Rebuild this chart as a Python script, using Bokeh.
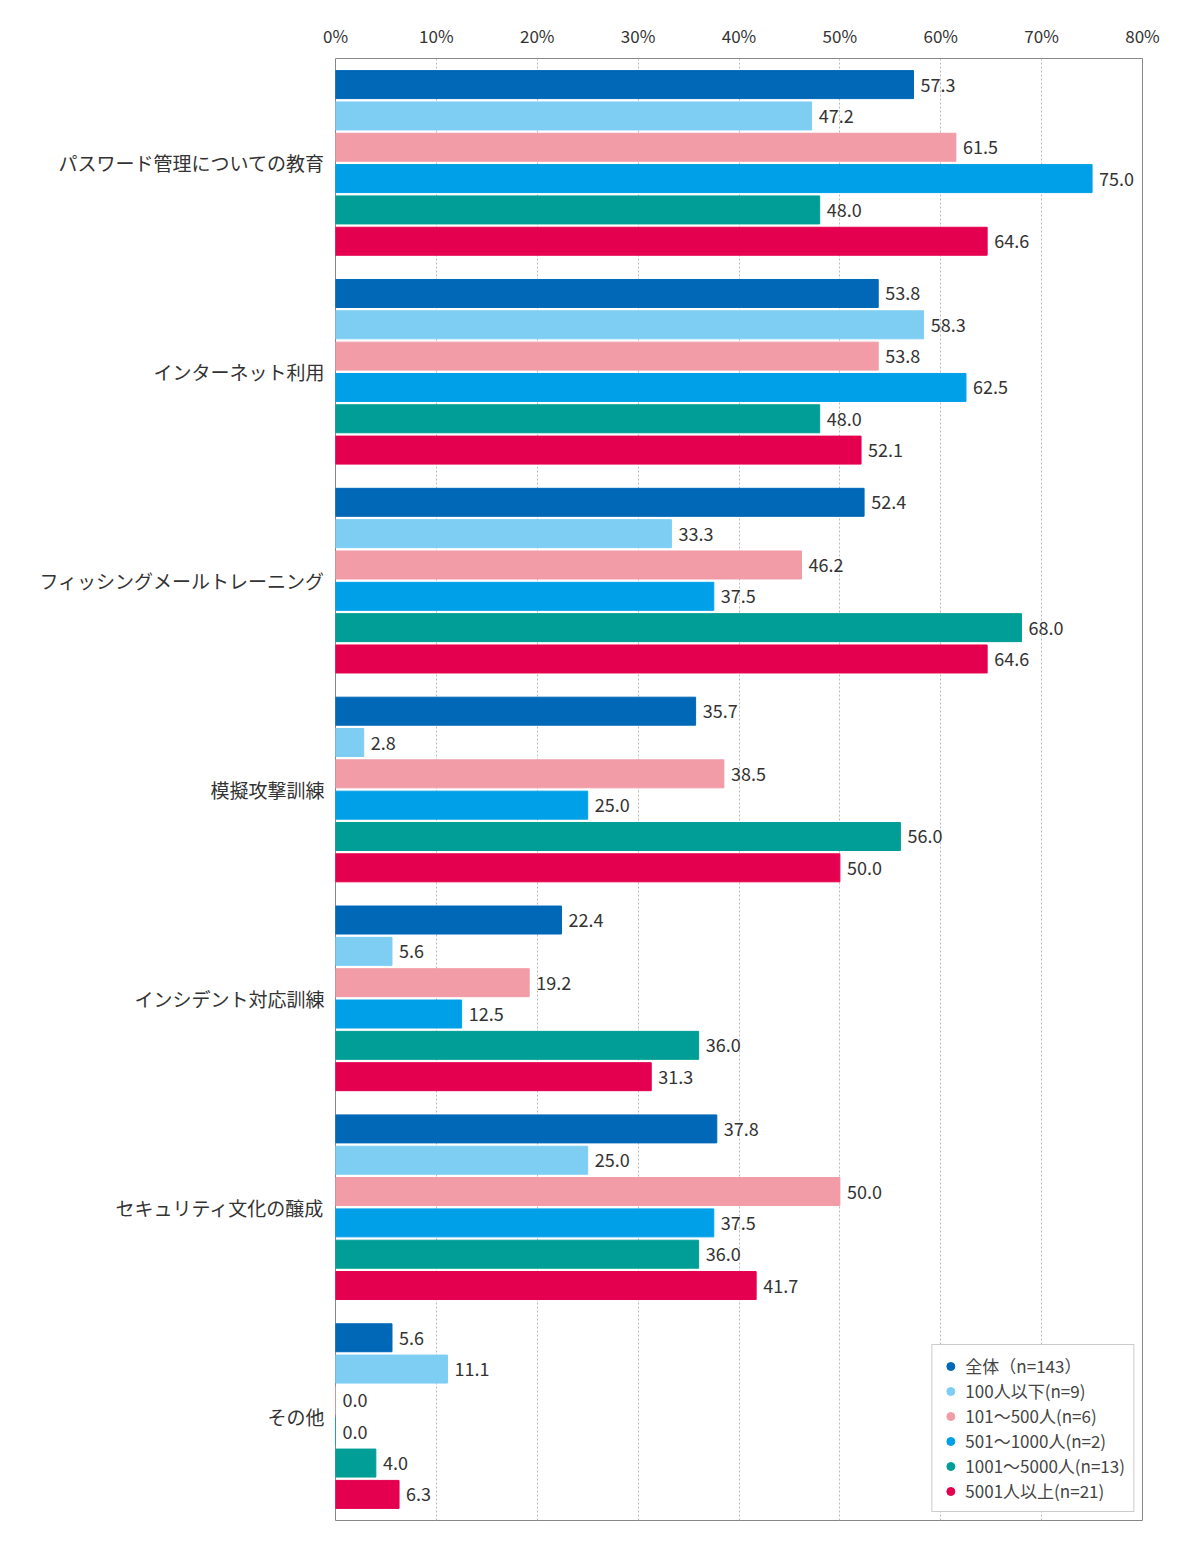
from bokeh.plotting import figure
from bokeh.models import Range1d, FixedTicker, Legend, LegendItem, ColumnDataSource, NumeralTickFormatter
from bokeh.embed import file_html
from bokeh.resources import INLINE

categories = ["パスワード管理についての教育", "インターネット利用", "フィッシングメールトレーニング",
              "模擬攻撃訓練", "インシデント対応訓練", "セキュリティ文化の醸成", "その他"]
series = ["全体（n=143）", "100人以下(n=9)", "101～500人(n=6)", "501～1000人(n=2)",
          "1001～5000人(n=13)", "5001人以上(n=21)"]
colors = ["#0068b7", "#7ecef4", "#f19ca7", "#00a0e9", "#009e96", "#e5004f"]
values = [
    [57.3, 53.8, 52.4, 35.7, 22.4, 37.8, 5.6],
    [47.2, 58.3, 33.3, 2.8, 5.6, 25.0, 11.1],
    [61.5, 53.8, 46.2, 38.5, 19.2, 50.0, 0.0],
    [75.0, 62.5, 37.5, 25.0, 12.5, 37.5, 0.0],
    [48.0, 48.0, 68.0, 56.0, 36.0, 36.0, 4.0],
    [64.6, 52.1, 64.6, 50.0, 31.3, 41.7, 6.3],
]
ticks = [0, 10, 20, 30, 40, 50, 60, 70, 80]

FONT = "Noto Sans CJK JP"
p = figure(width=1170, height=1540, output_backend="svg", toolbar_location=None,
           x_range=Range1d(0, 80), y_range=Range1d(7, 0), x_axis_location="above",
           min_border_left=335, min_border_top=58, min_border_bottom=20, min_border_right=28)
p.outline_line_color = "#888888"
p.xaxis.ticker = FixedTicker(ticks=ticks)
p.xaxis.formatter = NumeralTickFormatter(format="0")
p.xaxis.major_label_overrides = {t: f"{t}%" for t in ticks}
p.xaxis.major_label_text_font = FONT
p.xaxis.major_label_text_font_size = "17px"
p.xaxis.major_label_text_color = "#333333"
p.xaxis.axis_line_color = None
p.xaxis.major_tick_line_color = None
p.yaxis.ticker = FixedTicker(ticks=[i + 0.5 for i in range(7)])
p.yaxis.major_label_overrides = {i + 0.5: c for i, c in enumerate(categories)}
p.yaxis.major_label_text_font = FONT
p.yaxis.major_label_text_font_size = "19px"
p.yaxis.major_label_text_color = "#333333"
p.yaxis.axis_line_color = None
p.yaxis.major_tick_line_color = None
p.yaxis.minor_tick_line_color = None
p.ygrid.grid_line_color = None
p.xgrid.grid_line_color = "#bbbbbb"
p.xgrid.grid_line_dash = "2 2"

items = []
step = 0.15
for s, (name, col, vals) in enumerate(zip(series, colors, values)):
    ys = [i + 0.5 + (s - 2.5) * step for i in range(7)]
    src = ColumnDataSource(dict(y=ys, v=vals, t=[f"{v:.1f}" for v in vals],
                                tx=[v + 0.7 for v in vals]))
    p.hbar(y="y", right="v", left=0, height=0.134, color=col, source=src)
    p.text(x="tx", y="y", text="t", source=src, text_font_size="18px",
           text_baseline="middle", text_color="#333333", text_font={"value": FONT})
    r = p.scatter(x=[-10], y=[-10], size=15, marker="circle", color=col)
    items.append(LegendItem(label=name, renderers=[r]))

leg = Legend(items=items, location="bottom_right", label_text_font=FONT,
             label_text_font_size="17px", border_line_color="#999999",
             spacing=0, padding=8, margin=8, label_height=20, glyph_width=20)
p.add_layout(leg)

open("out.html", "w").write(file_html(p, INLINE))
